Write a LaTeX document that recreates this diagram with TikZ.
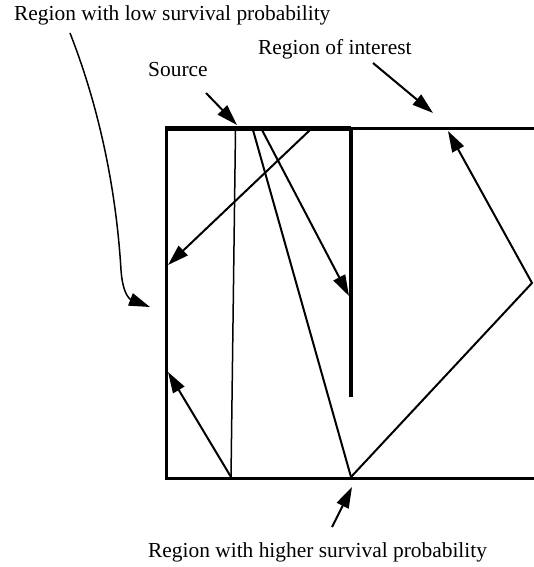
\documentclass[tikz,border=0pt]{standalone}
\usepackage{fontspec}
\setmainfont{Liberation Serif}
\usetikzlibrary{arrows.meta}
\begin{document}
\begin{tikzpicture}[x=1pt,y=-1pt,%
% common options for the texts:
txt/.style = {anchor=base west, inner sep=0, font=\fontsize{21.4}{25}\selectfont},
% common options for the walls:
wall/.style = {line width=3.2pt},
% common options for the rays:
ray/.style = {line width=2pt, line join=miter},
tip/.style = {-{Triangle[length=21pt,width=13pt]}}]
\useasboundingbox (0,0) rectangle (534,567);
\node[txt] (low) at (14,21) {Region with low survival probability};
\node[txt] (interest) at (258,55) {Region of interest};
\node[txt] (source) at (148,77) {Source};
\node[txt] (higher) at (148,557) {Region with higher survival probability};
% walls
\coordinate (TL) at (166.5,128.7);
\coordinate (TM) at (351,128.7);
\coordinate (TR) at (534,128.7);
\coordinate (BL) at (166.5,478.3);
\coordinate (BR) at (534,478.3);
\coordinate (DB) at (351,397);
\draw[wall] (BR) -- (BL) -- (TL);
\draw[line width=4.6pt] (164.9,128.7) -- (TM);
\draw[line width=3pt] (TM) -- (TR);
\draw[line width=4.2pt] (TM) -- (DB);
% rays
\coordinate (A0) at (235.5,130);
\coordinate (A1) at (231,477);
\coordinate (A2) at (168,372);
\coordinate (B0) at (253,130);
\coordinate (B1) at (351,477);
\coordinate (B2) at (532,283);
\coordinate (B3) at (448,131);
\coordinate (C0) at (262,130);
\coordinate (C1) at (349,296);
\coordinate (D0) at (310,130);
\coordinate (D1) at (168,265);
\draw[line width=1.5pt] (A0) -- (A1);
\draw[ray,tip] (A1) -- (A2);
\draw[ray] (B0) -- (B1);
\draw[ray,tip] (B1) -- (B2) -- (B3);
\draw[ray,tip] (C0) -- (C1);
\draw[ray,tip] (D0) -- (D1);
% pointers
\coordinate (s0) at (206,93);
\coordinate (s1) at (237,125);
\coordinate (i0) at (373,63);
\coordinate (i1) at (433,113);
\coordinate (h0) at (332,527);
\coordinate (h1) at (352,487);
\coordinate (l0) at (70,33);
\coordinate (l1) at (121,270);
\coordinate (l2) at (150,307);
\draw[ray,tip] (s0) -- (s1);
\draw[ray,tip] (i0) -- (i1);
\draw[ray,tip] (h0) -- (h1);
\draw[line width=1.5pt,tip] (l0) .. controls (108,130) and (118,220) .. (l1)
  .. controls (123,298) and (132,300) .. (l2);
\end{tikzpicture}
\end{document}
